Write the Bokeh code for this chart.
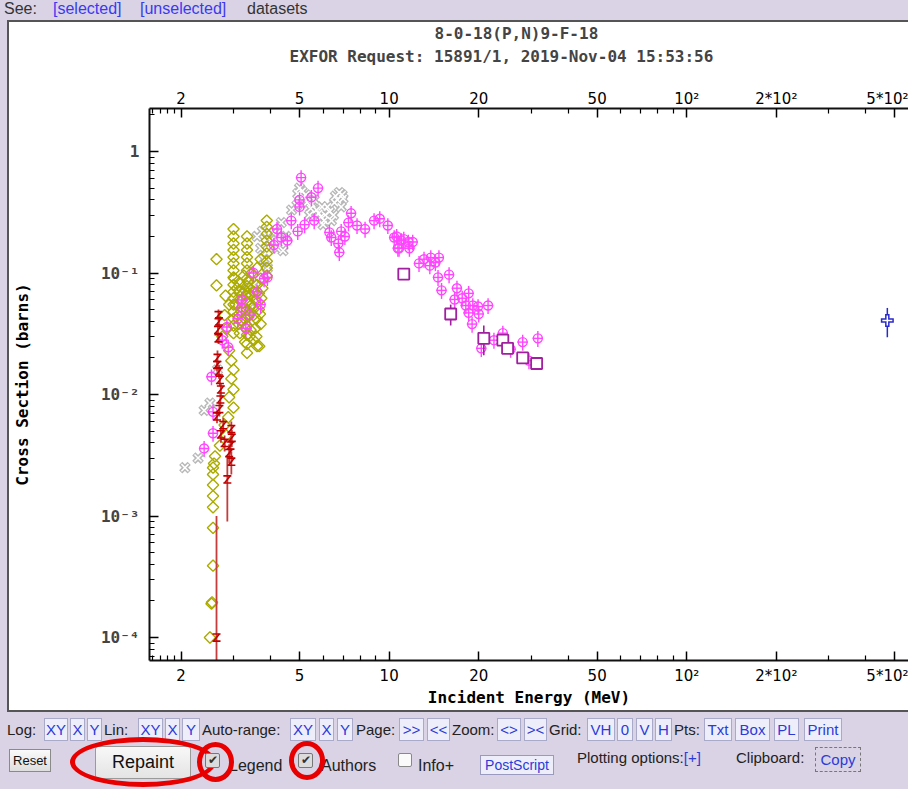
import numpy as np
from bokeh.plotting import figure
from bokeh.models import Range1d, LogAxis, FixedTicker, Title, Div, ColumnDataSource
from bokeh.layouts import column, row
from bokeh.embed import file_html
from bokeh.resources import INLINE

# ---------------- data ----------------
title_1 = "8-0-18(P,N)9-F-18"
title_2 = "EXFOR Request: 15891/1, 2019-Nov-04 15:53:56"
x_title = "Incident Energy (MeV)"
y_title = "Cross Section (barns)"

x_major = [2, 5, 10, 20, 50, 100, 200, 500]
x_minor = [1.6, 1.7, 1.8, 1.9, 3, 4, 6, 7, 8, 9, 30, 40, 60, 70, 80, 90, 300, 400]
x_labels = {2: "2", 5: "5", 10: "10", 20: "20", 50: "50", 100: "10²", 200: "2*10²", 500: "5*10²"}
y_major = [1e-4, 1e-3, 1e-2, 1e-1, 1]
y_labels = {1e-4: "10⁻⁴", 1e-3: "10⁻³", 1e-2: "10⁻²", 1e-1: "10⁻¹", 1: "1"}

# olive diamonds
olive_E = [2.63, 2.63,
           3.0, 3.0, 3.0, 3.0, 3.0, 3.0, 3.0, 3.0, 3.0, 3.0, 3.0, 3.0, 3.0, 3.0, 3.0, 3.0,
           3.33, 3.33, 3.33, 3.33, 3.33, 3.33, 3.33, 3.33, 3.33, 3.33, 3.33, 3.33, 3.33, 3.33, 3.33, 3.33,
           3.88, 3.88, 3.88, 3.88, 3.88, 3.88, 3.88, 3.88, 3.88,
           3.1, 3.15, 3.2, 3.25, 3.3, 3.4, 3.45, 3.5, 3.55, 3.6, 3.65, 3.7, 3.1, 3.2, 3.3, 3.4, 3.5,
           3.6, 3.55, 3.65, 3.7, 3.75, 3.05, 3.12, 3.25, 3.35, 3.45, 3.6, 3.7,
           3.02, 3.08, 3.14, 3.18, 3.22, 3.28, 3.32, 3.38, 3.42, 3.48, 3.52, 3.58, 3.62, 3.68, 3.72,
           3.15, 3.28, 3.42, 3.58, 3.66,
           2.90, 2.95, 3.0, 2.95, 3.0, 2.9, 3.0, 2.88, 2.8, 2.84, 2.7, 2.6, 2.58,
           2.8, 2.85, 2.75, 2.9, 2.82,
           2.56, 2.56, 2.56, 2.56, 2.56, 2.56, 2.56, 2.53, 2.54, 2.5]
olive_sig = [0.13, 0.079,
             0.23, 0.20, 0.175, 0.155, 0.135, 0.12, 0.105, 0.092, 0.08, 0.07, 0.062, 0.055, 0.048, 0.042, 0.037, 0.032,
             0.20, 0.175, 0.155, 0.135, 0.12, 0.105, 0.09, 0.078, 0.068, 0.058, 0.05, 0.043, 0.037, 0.031, 0.026, 0.022,
             0.27, 0.24, 0.21, 0.185, 0.165, 0.145, 0.125, 0.11, 0.095,
             0.085, 0.07, 0.06, 0.05, 0.065, 0.075, 0.055, 0.045, 0.06, 0.08, 0.05, 0.038, 0.045, 0.04, 0.035, 0.03, 0.028,
             0.025, 0.035, 0.068, 0.09, 0.075, 0.055, 0.038, 0.095, 0.085, 0.1, 0.11, 0.13,
             0.09, 0.075, 0.06, 0.048, 0.04, 0.072, 0.058, 0.046, 0.066, 0.052, 0.07, 0.042, 0.058, 0.046, 0.062,
             0.032, 0.027, 0.034, 0.03, 0.025,
             0.023, 0.019, 0.016, 0.0135, 0.011, 0.0095, 0.0078, 0.0065, 0.0056, 0.0046, 0.0038, 0.0031, 0.0027,
             0.045, 0.035, 0.03, 0.055, 0.065,
             0.0025, 0.0022, 0.0018, 0.00146, 0.00118, 0.0008, 0.00039, 0.00019, 0.000195, 0.0001]

# grey crosses
grey_E = [2.06, 2.28, 2.39, 2.50, 2.65, 3.2, 3.4, 3.5, 3.6, 3.7, 3.75, 3.8, 3.9, 4.0, 4.1, 4.2, 4.34, 4.4,
          4.5, 4.7, 4.9, 4.93, 5.0, 5.15, 5.3, 5.4, 5.5, 5.6, 5.7, 5.9, 6.0, 6.1, 6.2, 6.4, 6.5, 6.6, 6.8, 6.9, 7.0,
          5.1, 5.25, 5.45, 5.8, 6.05, 6.3, 6.55, 6.7, 6.95, 5.95]
grey_sig = [0.0025, 0.0030, 0.0074, 0.0085, 0.016, 0.07, 0.05, 0.08, 0.20, 0.16, 0.22, 0.13, 0.11, 0.185, 0.215,
            0.16, 0.26, 0.153, 0.20, 0.33, 0.36, 0.45, 0.50, 0.42, 0.38, 0.30, 0.37, 0.40, 0.33, 0.29, 0.25, 0.30,
            0.35, 0.27, 0.30, 0.43, 0.46, 0.35, 0.41,
            0.47, 0.44, 0.34, 0.31, 0.27, 0.32, 0.38, 0.40, 0.44, 0.35]

# magenta circles
mag_E = [2.39, 2.56, 2.56, 2.53, 2.75, 2.85, 2.88, 3.1, 3.19, 3.2, 3.3, 3.4, 3.5, 3.6, 3.7, 3.8, 3.9,
         4.1, 4.2, 4.34, 4.55, 4.69, 4.93, 5.0, 5.0, 5.06, 5.2, 5.48, 5.6, 5.77, 6.3, 6.39, 6.75, 6.8, 6.9,
         7.1, 7.3, 7.45, 7.8, 8.3, 8.9, 9.3, 9.9, 10.4, 10.6, 10.7, 10.8, 11.0, 11.2, 11.6, 11.7, 12.0, 12.6,
         13.1, 13.7, 13.8, 14.3, 14.6, 14.7, 15.0, 15.9, 16.6, 16.9, 17.6, 18.1, 18.5, 18.5, 19.0, 19.1, 19.9,
         20.0, 20.4, 21.5, 22.5, 24.1, 25.6, 28.1, 29.5, 31.6]
mag_sig = [0.0036, 0.0048, 0.0072, 0.014, 0.028, 0.036, 0.0245, 0.042, 0.052, 0.06, 0.035, 0.045, 0.10, 0.07,
           0.055, 0.09, 0.092, 0.17, 0.23, 0.196, 0.185, 0.27, 0.22, 0.35, 0.40, 0.61, 0.25, 0.42, 0.27, 0.50,
           0.216, 0.196, 0.175, 0.148, 0.22, 0.20, 0.26, 0.31, 0.246, 0.23, 0.27, 0.28, 0.246, 0.196, 0.20,
           0.16, 0.16, 0.185, 0.19, 0.18, 0.16, 0.18, 0.12, 0.13, 0.115, 0.134, 0.122, 0.092, 0.134, 0.072,
           0.097, 0.0606, 0.075, 0.062, 0.054, 0.068, 0.047, 0.038, 0.054, 0.053, 0.046, 0.024, 0.054, 0.028,
           0.032, 0.0236, 0.027, 0.019, 0.029]
mag_rel_dsig = 0.15
mag_rel_dE = 0.04

# red "Z" markers with error bars
red_E = [2.67, 2.68, 2.66, 2.67, 2.65, 2.64, 2.68, 2.70, 2.72, 2.71, 2.69, 2.64, 2.77, 2.95, 2.96, 2.93,
         2.72, 2.80, 2.90, 2.95, 2.86, 2.63]
red_sig = [0.045, 0.040, 0.034, 0.029, 0.020, 0.0175, 0.0155, 0.0132, 0.0110, 0.0091, 0.0076, 0.0066, 0.0056,
           0.0052, 0.0044, 0.0038, 0.0047, 0.0040, 0.0033, 0.0028, 0.0020, 0.0001]
red_err = [0.005, 0.004, 0.004, 0.003, 0.003, 0.002, 0.002, 0.0015, 0.0013, 0.0011, 0.001, 0.0008, 0.0008,
           0.0008, 0.0007, 0.0006, 0.0007, 0.0006, 0.0006, 0.0006, 0.0011, 0.0009]

# purple squares
pur_E = [11.2, 16.1, 20.8, 24.1, 25.0, 28.1, 31.3]
pur_sig = [0.098, 0.046, 0.029, 0.028, 0.024, 0.020, 0.018]
pur_err = [0.004, 0.009, 0.008, 0.002, 0.002, 0.0015, 0.0015]

# blue cross
blue_E = [472]
blue_sig = [0.0406]
blue_err = [0.011]

# ---------------- styling ----------------
LAV = "#d9d3e5"
MONO = "DejaVu Sans Mono"
OLIVE = "#abab00"
GREY = "#b8b8b8"
MAG = "#ff45ff"
RED = "#c00000"
PUR = "#a020a0"
BLUE = "#2a2acc"

p = figure(width=899, height=688, x_axis_type="log", y_axis_type="log",
           x_range=Range1d(1.566, 556), y_range=Range1d(6.47e-5, 2.26),
           output_backend="svg", toolbar_location=None,
           min_border_left=139, min_border_right=0, min_border_top=86, min_border_bottom=50,
           background_fill_color="white", border_fill_color="white",
           outline_line_color=None, margin=0)
p.xgrid.visible = False
p.ygrid.visible = False

bottom_axis = p.below[0]
top_axis = LogAxis()
p.add_layout(top_axis, "above")

for ax in [bottom_axis, top_axis]:
    ax.ticker = FixedTicker(ticks=x_major, minor_ticks=x_minor)
    ax.major_label_overrides = x_labels
    ax.major_label_text_font = "DejaVu Sans"
    ax.major_label_text_font_size = "15px"
    ax.major_label_text_color = "black"

bottom_axis.major_label_standoff = 6
top_axis.major_label_standoff = 1

y_minor = [k * 10.0 ** d for d in range(-5, 1) for k in range(2, 10)]
ya = p.left[0]
ya.ticker = FixedTicker(ticks=y_major, minor_ticks=y_minor)
ya.major_label_overrides = y_labels
ya.major_label_text_font = MONO
ya.major_label_text_font_style = "bold"
ya.major_label_text_font_size = "16px"
ya.major_label_standoff = 10
ya.axis_label = y_title
ya.axis_label_standoff = 66

bottom_axis.axis_label = x_title
bottom_axis.axis_label_standoff = 0

for ax in [bottom_axis, top_axis, ya]:
    ax.major_tick_in = 9
    ax.major_tick_out = 0
    ax.minor_tick_in = 5
    ax.minor_tick_out = 0
    ax.axis_line_width = 2
    ax.axis_line_color = "#111111"
    ax.major_tick_line_width = 1.5
    ax.minor_tick_line_width = 1.2
    ax.axis_label_text_font = MONO
    ax.axis_label_text_font_style = "bold"
    ax.axis_label_text_font_size = "16px"
    ax.axis_label_text_color = "black"

t2 = Title(text=title_2, align="left", offset=140, standoff=41,
           text_font=MONO, text_font_style="bold", text_font_size="16px")
p.add_layout(t2, "above")
p.title.text = title_1
p.title.align = "left"
p.title.offset = 285
p.title.standoff = -36
p.title.text_font = MONO
p.title.text_font_style = "bold"
p.title.text_font_size = "16px"

# grey
gsrc = ColumnDataSource(dict(E=grey_E, s=grey_sig))
p.scatter("E", "s", source=gsrc, marker="x", size=12, line_width=4.5, line_color=GREY)
p.scatter("E", "s", source=gsrc, marker="x", size=10, line_width=1.5, line_color="white")

# olive
osrc = ColumnDataSource(dict(E=olive_E, s=olive_sig))
p.scatter("E", "s", source=osrc, marker="square", angle=np.pi / 4, size=8,
          fill_color=None, line_color=OLIVE, line_width=1.4)

# magenta
mE = np.array(mag_E)
mS = np.array(mag_sig)
msrc = ColumnDataSource(dict(E=mE, s=mS, s0=mS * (1 - mag_rel_dsig), s1=mS * (1 + mag_rel_dsig),
                             E0=mE * (1 - mag_rel_dE), E1=mE * (1 + mag_rel_dE)))
p.segment("E", "s0", "E", "s1", source=msrc, line_color=MAG, line_width=1.4)
p.segment("E0", "s", "E1", "s", source=msrc, line_color=MAG, line_width=1.4)
p.scatter("E", "s", source=msrc, marker="circle", size=9, fill_color=None, line_color=MAG, line_width=1.4)

# red
rS = np.array(red_sig)
rErr = np.array(red_err)
rsrc = ColumnDataSource(dict(E=red_E, s=rS, lo=np.maximum(rS - rErr, 1e-7), hi=rS + rErr,
                             up=rS * 1.07, dn=rS / 1.07))
p.segment("E", "lo", "E", "hi", source=rsrc, line_color="#c43c3c", line_width=1.8)
p.scatter("E", "up", source=rsrc, marker="dash", size=8, line_color=RED, line_width=1.6)
p.scatter("E", "dn", source=rsrc, marker="dash", size=8, line_color=RED, line_width=1.6)
p.scatter("E", "s", source=rsrc, marker="dash", angle=0.9, size=9, line_color=RED, line_width=1.6)

# purple
pS = np.array(pur_sig)
pE = np.array(pur_err)
psrc = ColumnDataSource(dict(E=pur_E, s=pS, lo=pS - pE, hi=pS + pE))
p.segment("E", "lo", "E", "hi", source=psrc, line_color=PUR, line_width=1.6)
p.scatter("E", "s", source=psrc, marker="square", size=11, fill_color="white", line_color=PUR, line_width=1.8)

# blue
bS = np.array(blue_sig)
bE = np.array(blue_err)
bsrc = ColumnDataSource(dict(E=blue_E, s=bS, lo=bS - bE, hi=bS + bE))
p.segment("E", "lo", "E", "hi", source=bsrc, line_color=BLUE, line_width=1.5)
p.scatter("E", "s", source=bsrc, marker="cross", size=13, line_width=4.5, line_color=BLUE)
p.scatter("E", "s", source=bsrc, marker="cross", size=10, line_width=1.5, line_color="white")

# ---------------- page chrome ----------------
SANS = "'Liberation Sans', Arial, sans-serif"
top_html = (
    f'<div style="position:relative;width:908px;height:22px;background:{LAV};overflow:hidden;'
    f'font-family:{SANS};font-size:16px;white-space:nowrap;">'
    '<span style="position:absolute;left:4px;top:0px;line-height:18px;color:#333;">See:</span>'
    '<span style="position:absolute;left:53px;top:0px;line-height:18px;color:#3a3aee;">[selected]</span>'
    '<span style="position:absolute;left:140px;top:0px;line-height:18px;color:#3a3aee;">[unselected]</span>'
    '<span style="position:absolute;left:247px;top:0px;line-height:18px;color:#333;">datasets</span>'
    '<div style="position:absolute;left:7px;top:20px;width:901px;height:2px;background:#555;"></div>'
    '</div>')
top_div = Div(text=top_html, width=908, height=22, margin=0)

left_html = (f'<div style="position:relative;width:9px;height:688px;background:{LAV};">'
             '<div style="position:absolute;left:7px;top:0;width:2px;height:688px;background:#555;"></div></div>')
left_div = Div(text=left_html, width=9, height=688, margin=0)


def btn(x0, x1, txt, top=8, h=23):
    return (f'<div style="position:absolute;left:{x0}px;top:{top}px;width:{x1 - x0}px;height:{h}px;'
            f'border:1px solid #a9a9c9;background:#eeeefb;color:#2b3bd8;text-align:center;'
            f'line-height:{h - 2}px;box-sizing:border-box;">{txt}</div>')


def lab(x0, txt, top=8, h=23, color="#222"):
    return (f'<div style="position:absolute;left:{x0}px;top:{top}px;height:{h}px;line-height:{h}px;'
            f'color:{color};">{txt}</div>')


row1 = [lab(7, "Log:"), btn(44, 68, "XY"), btn(70, 85, "X"), btn(87, 102, "Y"),
        lab(104, "Lin:"), btn(138, 163, "XY"), btn(165, 180, "X"), btn(182, 200, "Y"),
        lab(202, "Auto-range:"), btn(290, 316, "XY"), btn(319, 334, "X"), btn(337, 353, "Y"),
        lab(356, "Page:"), btn(399, 424, "&gt;&gt;"), btn(427, 450, "&lt;&lt;"),
        lab(452, "Zoom:"), btn(497, 521, "&lt;&gt;"), btn(524, 547, "&gt;&lt;"),
        lab(549, "Grid:"), btn(587, 615, "VH"), btn(617, 633, "0"), btn(636, 653, "V"), btn(655, 672, "H"),
        lab(674, "Pts:"), btn(704, 732, "Txt"), btn(735, 770, "Box"), btn(774, 799, "PL"), btn(804, 842, "Print")]

check_on = ('<div style="position:absolute;left:{x}px;top:43px;width:15px;height:15px;border:1px solid #777;'
            'background:#dcdcdc;border-radius:2px;box-sizing:border-box;font-size:12px;line-height:13px;'
            'text-align:center;color:#333;">✔</div>')
check_off = ('<div style="position:absolute;left:{x}px;top:43px;width:14px;height:14px;border:1px solid #888;'
             'background:#fafafa;border-radius:2px;box-sizing:border-box;"></div>')
ring = ('<div style="position:absolute;left:{x}px;top:{y}px;width:{w}px;height:{h}px;'
        'border:5px solid #e80000;border-radius:50%;box-sizing:border-box;"></div>')

row2 = [
    '<div style="position:absolute;left:9px;top:39px;width:42px;height:23px;border:1px solid #8a8a8a;'
    'background:linear-gradient(#fafafa,#dedede);font-size:13px;line-height:21px;text-align:center;'
    'box-sizing:border-box;color:#111;">Reset</div>',
    '<div style="position:absolute;left:95px;top:36px;width:96px;height:33px;border:1px solid #9a9a9a;'
    'border-radius:3px;background:linear-gradient(#f8f8f8,#e4e4e4);font-size:18px;line-height:31px;'
    'text-align:center;box-sizing:border-box;color:#111;">Repaint</div>',
    ring.format(x=70, y=27, w=146, h=50),
    check_on.format(x=205),
    '<div style="position:absolute;left:229px;top:45px;font-size:16px;line-height:22px;color:#222;">Legend</div>',
    ring.format(x=197, y=32, w=37, h=40),
    check_on.format(x=298),
    '<div style="position:absolute;left:321px;top:45px;font-size:16px;line-height:22px;color:#222;">Authors</div>',
    ring.format(x=289, y=31, w=36, h=39),
    check_off.format(x=398),
    '<div style="position:absolute;left:418px;top:45px;font-size:16px;line-height:22px;color:#222;">Info+</div>',
    '<div style="position:absolute;left:480px;top:45px;width:74px;height:20px;border:1px solid #9a9ac0;'
    'background:#eeeefb;color:#2b3bd8;font-size:14px;line-height:18px;text-align:center;'
    'box-sizing:border-box;">PostScript</div>',
    '<div style="position:absolute;left:577px;top:37px;font-size:15px;line-height:22px;color:#222;">'
    'Plotting options:<span style="color:#2b3bd8;">[+]</span></div>',
    '<div style="position:absolute;left:736px;top:37px;font-size:15px;line-height:22px;color:#222;">Clipboard:</div>',
    '<div style="position:absolute;left:815px;top:37px;width:46px;height:25px;border:1px dashed #777;'
    'color:#2b3bd8;font-size:15px;line-height:23px;text-align:center;box-sizing:border-box;">Copy</div>',
]

bottom_html = (f'<div style="position:relative;width:908px;height:79px;background:{LAV};overflow:hidden;'
               f'font-family:{SANS};font-size:15px;white-space:nowrap;">'
               '<div style="position:absolute;left:7px;top:0;width:901px;height:2px;background:#555;"></div>'
               + "".join(row1) + "".join(row2) + '</div>')
bottom_div = Div(text=bottom_html, width=908, height=79, margin=0)

layout = column(top_div, row(left_div, p, spacing=0, margin=0), bottom_div, spacing=0, margin=0)

open("out.html", "w").write(file_html(layout, INLINE))
